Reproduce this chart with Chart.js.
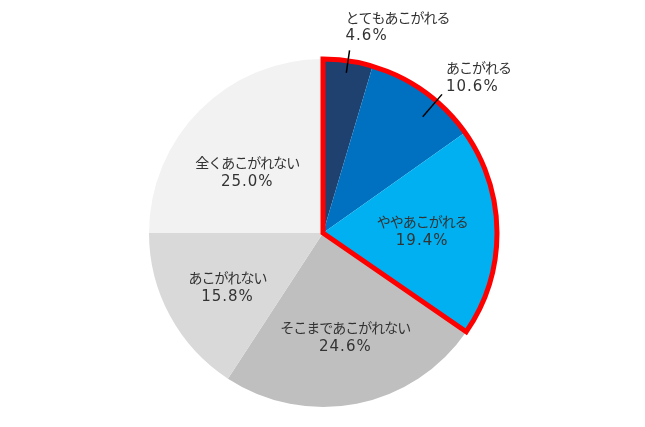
<!DOCTYPE html>
<html>
<head>
<meta charset="utf-8">
<script src="https://cdn.jsdelivr.net/npm/chart.js@4.4.0/dist/chart.umd.min.js"></script>
<style>
  html, body { margin: 0; padding: 0; background: #ffffff; }
  #wrap { width: 645px; height: 427px; }
</style>
</head>
<body>
<div id="wrap"><canvas id="pieChart" width="645" height="427"></canvas></div>
<script>
// valores (%)
const categorias = ['とてもあこがれる', 'あこがれる', 'ややあこがれる', 'そこまであこがれない', 'あこがれない', '全くあこがれない'];
const valores = [4.6, 10.6, 19.4, 24.6, 15.8, 25.0];
const cores = ['#1F4170', '#0070C0', '#00B0F0', '#BFBFBF', '#D9D9D9', '#F2F2F2'];
// fatias destacadas com contorno vermelho
const destaque = [0, 1, 2];

// posição dos rótulos: raio relativo, desvio de ângulo (graus), fora ou dentro
const rotuloLayout = [
    { fora: true, r0: 0.93, r1: 1.06, da: 0, dx: -4, dy1: -33, dy2: -14 },
    { fora: true, r0: 0.88, r1: 1.05, da: 5, dx: 4, dy1: -27, dy2: -7 },
    { r: 0.57, da: -1 },
    { r: 0.61, da: -1 },
    { r: 0.63, da: -1 },
    { r: 0.56, da: -6 }
];

const FONTE_TXT = '14px "Noto Sans CJK JP", sans-serif';
const FONTE_NUM = '15px "DejaVu Sans", sans-serif';
const COR_TXT = '#333333';

const contornoPlugin = {
    id: 'contorno',
    afterDatasetsDraw(chart) {
        const arcs = chart.getDatasetMeta(0).data;
        const first = arcs[destaque[0]];
        const last = arcs[destaque[destaque.length - 1]];
        const ctx = chart.ctx;
        ctx.save();
        ctx.beginPath();
        ctx.moveTo(first.x, first.y);
        ctx.arc(first.x, first.y, first.outerRadius, first.startAngle, last.endAngle);
        ctx.closePath();
        ctx.lineWidth = 5;
        ctx.lineJoin = 'miter';
        ctx.strokeStyle = '#FF0000';
        ctx.stroke();
        ctx.restore();
    }
};

const rotulosPlugin = {
    id: 'rotulos',
    afterDraw(chart) {
        const arcs = chart.getDatasetMeta(0).data;
        const ctx = chart.ctx;
        ctx.save();
        arcs.forEach((arc, i) => {
            const cfg = rotuloLayout[i];
            const ang = (arc.startAngle + arc.endAngle) / 2 + cfg.da * Math.PI / 180;
            const R = arc.outerRadius;
            const txt = categorias[i];
            const num = valores[i].toFixed(1) + '%';
            ctx.fillStyle = COR_TXT;
            ctx.textBaseline = 'middle';
            if (cfg.fora) {
                const x0 = arc.x + Math.cos(ang) * R * cfg.r0, y0 = arc.y + Math.sin(ang) * R * cfg.r0;
                const x1 = arc.x + Math.cos(ang) * R * cfg.r1, y1 = arc.y + Math.sin(ang) * R * cfg.r1;
                ctx.beginPath();
                ctx.moveTo(x0, y0);
                ctx.lineTo(x1, y1);
                ctx.lineWidth = 1.5;
                ctx.strokeStyle = '#000000';
                ctx.stroke();
                ctx.textAlign = 'left';
                ctx.font = FONTE_TXT;
                ctx.letterSpacing = '-1px';
                ctx.fillText(txt, x1 + cfg.dx, y1 + cfg.dy1);
                ctx.font = FONTE_NUM;
                ctx.letterSpacing = '1px';
                ctx.fillText(num, x1 + cfg.dx, y1 + cfg.dy2);
                ctx.letterSpacing = '0px';
            } else {
                const cx = arc.x + Math.cos(ang) * R * cfg.r;
                const cy = arc.y + Math.sin(ang) * R * cfg.r;
                ctx.textAlign = 'center';
                ctx.font = FONTE_TXT;
                ctx.letterSpacing = '-1px';
                ctx.fillText(txt, cx, cy - 9);
                ctx.font = FONTE_NUM;
                ctx.letterSpacing = '1px';
                ctx.fillText(num, cx, cy + 10);
                ctx.letterSpacing = '0px';
            }
        });
        ctx.restore();
    }
};

const ctx = document.getElementById('pieChart').getContext('2d');
new Chart(ctx, {
    type: 'pie',
    data: {
        labels: categorias,
        datasets: [{ data: valores, backgroundColor: cores, borderWidth: 0 }]
    },
    options: {
        responsive: false,
        animation: false,
        devicePixelRatio: 1,
        layout: { padding: { top: 59, bottom: 20, left: 1, right: 0 } },
        plugins: { legend: { display: false }, tooltip: { enabled: false } }
    },
    plugins: [contornoPlugin, rotulosPlugin]
});
</script>
</body>
</html>
